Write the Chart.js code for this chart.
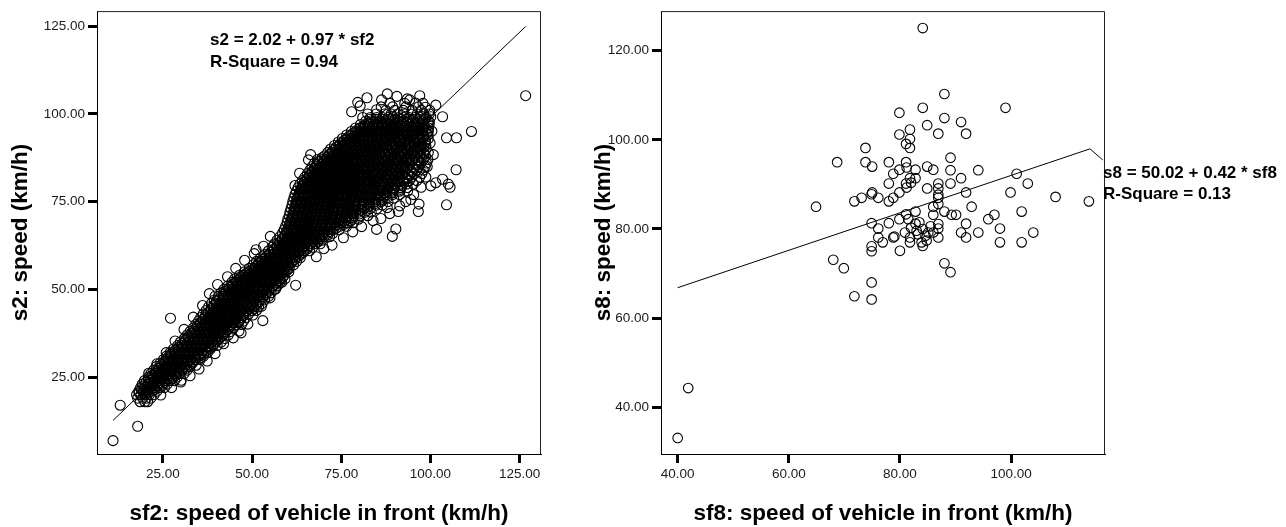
<!DOCTYPE html>
<html>
<head>
<meta charset="utf-8">
<script src="https://cdn.jsdelivr.net/npm/chart.js@4.4.1/dist/chart.umd.min.js"></script>
<style>
  html, body { margin: 0; padding: 0; background: #fff; }
  #wrap { position: relative; width: 1286px; height: 527px; }
  #left { position: absolute; left: 0; top: 0; }
  #right { position: absolute; left: 590px; top: 0; }
</style>
</head>
<body>
<div id="wrap">
  <canvas id="left" width="590" height="527"></canvas>
  <canvas id="right" width="696" height="527"></canvas>
</div>
<script>
// ---- section 2: s2 against sf2 ----
// each row: one s2 speed and the sf2 speeds observed at it
const s2Rows = [
  [18, [18.6, 19.9, 20.7]],
  [19, [17.9, 19.3, 20.4, 21.6]],
  [20, [17.6, 18.8, 20.1, 21.2, 22.5]],
  [20.5, [18.3, 19.6, 20.8]],
  [21, [18.2, 19.5, 20.6, 21.9, 23.3]],
  [21.5, [19.0, 20.3, 21.5, 22.8]],
  [22, [18.7, 20.0, 21.3, 22.6, 24.0, 25.4]],
  [22.5, [19.6, 20.9, 22.2, 23.5, 24.8]],
  [23, [19.2, 20.8, 22.1, 23.4, 24.8, 26.2]],
  [23.5, [20.2, 21.6, 22.9, 24.2, 25.6]],
  [24, [19.8, 21.4, 22.7, 24.0, 25.4, 26.9, 28.2]],
  [24.5, [21.0, 22.3, 23.6, 24.9, 26.2, 27.6]],
  [25, [20.9, 22.3, 23.5, 24.8, 26.1, 27.5, 29.0]],
  [25.5, [22.0, 23.3, 24.6, 25.9, 27.2, 28.6]],
  [26, [21.6, 23.0, 24.3, 25.6, 26.9, 28.3, 29.7, 30.9]],
  [26.5, [22.9, 24.2, 25.5, 26.8, 28.1, 29.5]],
  [27, [22.4, 23.8, 25.1, 26.4, 27.7, 29.0, 30.4, 31.8]],
  [27.5, [23.7, 25.0, 26.3, 27.6, 28.9, 30.3, 31.5]],
  [28, [23.1, 24.6, 25.9, 27.2, 28.5, 29.8, 31.1, 32.6]],
  [28.5, [24.5, 25.8, 27.1, 28.4, 29.7, 31.0, 32.4]],
  [29, [24.2, 25.5, 26.8, 28.0, 29.3, 30.6, 31.9, 33.3]],
  [29.5, [25.5, 26.8, 28.1, 29.4, 30.7, 32.0, 33.4]],
  [30, [25.1, 26.4, 27.7, 29.0, 30.2, 31.5, 32.8, 34.1, 35.4]],
  [30.5, [26.3, 27.6, 28.9, 30.2, 31.5, 32.8, 34.1, 35.5]],
  [31, [26.0, 27.3, 28.6, 29.8, 31.1, 32.4, 33.7, 35.0, 36.4]],
  [31.5, [27.2, 28.5, 29.8, 31.1, 32.4, 33.7, 35.0, 36.3]],
  [32, [27.0, 28.3, 29.5, 30.7, 32.0, 33.3, 34.6, 35.9, 37.5]],
  [32.5, [28.2, 29.5, 30.8, 32.1, 33.4, 34.7, 36.0, 37.2]],
  [33, [27.9, 29.2, 30.4, 31.6, 32.9, 34.2, 35.5, 36.8, 38.3]],
  [33.5, [29.3, 30.6, 31.9, 33.2, 34.5, 35.8, 37.1, 38.4]],
  [34, [29.1, 30.3, 31.5, 32.7, 33.9, 35.1, 36.4, 37.7, 39.0, 40.2]],
  [34.5, [30.3, 31.6, 32.9, 34.2, 35.5, 36.8, 38.1, 39.4]],
  [35, [29.9, 31.2, 32.4, 33.6, 34.8, 36.0, 37.3, 38.6, 39.9, 41.3]],
  [35.5, [31.2, 32.5, 33.8, 35.1, 36.4, 37.7, 39.0, 40.3]],
  [36, [31.0, 32.2, 33.4, 34.6, 35.8, 37.0, 38.2, 39.5, 40.8, 42.4]],
  [36.5, [32.1, 33.4, 34.7, 36.0, 37.3, 38.6, 39.9, 41.3]],
  [37, [31.8, 33.1, 34.3, 35.5, 36.7, 37.9, 39.2, 40.5, 41.8, 43.3]],
  [37.5, [32.9, 34.2, 35.5, 36.8, 38.1, 39.4, 40.7, 42.1]],
  [38, [32.6, 33.9, 35.1, 36.3, 37.5, 38.7, 39.9, 41.2, 42.5, 43.9]],
  [38.5, [33.8, 35.1, 36.4, 37.7, 39.0, 40.3, 41.6, 43.0]],
  [39, [33.5, 34.8, 36.0, 37.2, 38.4, 39.6, 40.8, 42.1, 43.4, 44.8]],
  [39.5, [34.6, 35.9, 37.2, 38.5, 39.8, 41.1, 42.4, 43.8]],
  [40, [34.2, 35.5, 36.7, 37.9, 39.1, 40.3, 41.5, 42.8, 44.1, 45.5, 47.0]],
  [40.5, [35.5, 36.8, 38.1, 39.4, 40.7, 42.0, 43.3, 44.7, 46.1]],
  [41, [35.0, 36.3, 37.5, 38.7, 39.9, 41.1, 42.3, 43.6, 44.9, 46.2, 47.6]],
  [41.5, [36.2, 37.5, 38.8, 40.1, 41.4, 42.7, 44.0, 45.4, 46.8]],
  [42, [35.6, 36.9, 38.1, 39.3, 40.5, 41.7, 42.9, 44.2, 45.5, 46.8, 48.3]],
  [42.5, [36.9, 38.2, 39.5, 40.8, 42.1, 43.4, 44.7, 46.1, 47.5]],
  [43, [36.3, 37.6, 38.8, 40.0, 41.2, 42.4, 43.6, 44.9, 46.2, 47.5, 49.0]],
  [43.5, [37.7, 39.0, 40.3, 41.6, 42.9, 44.2, 45.5, 46.9, 48.3]],
  [44, [37.1, 38.4, 39.6, 40.8, 42.0, 43.2, 44.4, 45.7, 47.0, 48.4, 49.9, 51.2]],
  [44.5, [38.5, 39.8, 41.1, 42.4, 43.7, 45.0, 46.3, 47.7, 49.1, 50.5]],
  [45, [37.8, 39.1, 40.3, 41.5, 42.7, 43.9, 45.1, 46.3, 47.6, 48.9, 50.3, 51.8]],
  [45.5, [39.3, 40.6, 41.9, 43.2, 44.5, 45.8, 47.1, 48.5, 49.9, 51.3]],
  [46, [38.6, 39.9, 41.1, 42.3, 43.5, 44.7, 45.9, 47.1, 48.4, 49.7, 51.1, 52.8]],
  [46.5, [40.0, 41.3, 42.6, 43.9, 45.2, 46.5, 47.8, 49.2, 50.6, 52.0]],
  [47, [39.4, 40.7, 41.9, 43.1, 44.3, 45.5, 46.7, 47.9, 49.2, 50.5, 51.9, 53.5]],
  [47.5, [40.9, 42.2, 43.5, 44.8, 46.1, 47.4, 48.7, 50.1, 51.5, 52.9]],
  [48, [40.6, 41.9, 43.1, 44.3, 45.5, 46.7, 47.9, 49.1, 50.4, 51.7, 53.0, 54.6]],
  [48.5, [41.8, 43.1, 44.4, 45.7, 47.0, 48.3, 49.6, 51.0, 52.4, 53.9]],
  [49, [41.3, 42.6, 43.8, 45.0, 46.2, 47.4, 48.6, 49.8, 51.1, 52.4, 53.8, 55.3]],
  [49.5, [42.6, 43.9, 45.2, 46.5, 47.8, 49.1, 50.4, 51.8, 53.2, 54.7]],
  [50, [42.1, 43.4, 44.6, 45.8, 47.0, 48.2, 49.4, 50.6, 51.9, 53.2, 54.6, 56.2]],
  [50.5, [43.6, 44.9, 46.2, 47.5, 48.8, 50.1, 51.4, 52.8, 54.2, 55.6]],
  [51, [43.2, 44.5, 45.7, 46.9, 48.1, 49.3, 50.5, 51.7, 53.0, 54.3, 55.7, 57.1]],
  [51.5, [44.6, 45.9, 47.2, 48.5, 49.8, 51.1, 52.4, 53.8, 55.2, 56.6]],
  [52, [44.3, 45.6, 46.8, 48.0, 49.2, 50.4, 51.6, 52.8, 54.1, 55.4, 56.8, 58.3]],
  [52.5, [45.7, 47.0, 48.3, 49.6, 50.9, 52.2, 53.5, 54.9, 56.3, 57.7]],
  [53, [45.1, 46.5, 47.7, 48.9, 50.1, 51.3, 52.5, 53.7, 55.0, 56.3, 57.7, 59.2]],
  [53.5, [46.9, 48.2, 49.5, 50.8, 52.1, 53.4, 54.7, 56.0, 57.4, 58.6]],
  [54, [46.4, 47.7, 48.9, 50.1, 51.3, 52.5, 53.7, 55.0, 56.3, 57.6, 59.0]],
  [54.5, [48.2, 49.5, 50.8, 52.1, 53.4, 54.7, 56.0, 57.3, 58.6]],
  [55, [47.8, 49.1, 50.3, 51.5, 52.7, 53.9, 55.1, 56.4, 57.7, 59.0, 60.3]],
  [55.5, [49.6, 50.9, 52.2, 53.5, 54.8, 56.1, 57.4, 58.7, 59.9]],
  [56, [49.2, 50.5, 51.7, 52.9, 54.1, 55.3, 56.5, 57.8, 59.1, 60.4]],
  [56.5, [50.9, 52.2, 53.5, 54.8, 56.1, 57.4, 58.7, 60.0]],
  [57, [50.3, 51.6, 52.8, 54.0, 55.2, 56.4, 57.6, 58.9, 60.2, 61.6]],
  [57.5, [51.9, 53.2, 54.5, 55.8, 57.1, 58.4, 59.7, 61.0]],
  [58, [51.2, 52.5, 53.7, 54.9, 56.1, 57.3, 58.5, 59.8, 61.1, 62.5]],
  [58.5, [52.9, 54.2, 55.5, 56.8, 58.1, 59.4, 60.7, 62.0]],
  [59, [52.3, 53.6, 54.8, 56.0, 57.2, 58.4, 59.6, 60.9, 62.2, 63.5]],
  [59.5, [54.1, 55.4, 56.7, 58.0, 59.3, 60.6, 61.9, 63.1]],
  [60, [53.6, 54.9, 56.1, 57.3, 58.5, 59.7, 60.9, 62.2, 63.6]],
  [60.5, [55.2, 56.5, 57.8, 59.1, 60.4, 61.7, 63.0, 64.3]],
  [61, [54.6, 55.9, 57.1, 58.3, 59.5, 60.7, 61.9, 63.2, 64.6, 66.1]],
  [61.5, [56.2, 57.5, 58.8, 60.1, 61.4, 62.7, 64.0, 65.4]],
  [62, [55.6, 56.9, 58.1, 59.3, 60.5, 61.7, 62.9, 64.2, 65.5, 67.0]],
  [62.5, [57.0, 58.3, 59.6, 60.9, 62.2, 63.5, 64.8, 66.2]],
  [63, [56.3, 57.6, 58.8, 60.0, 61.2, 62.4, 63.6, 64.9, 66.2, 67.6, 69.1]],
  [63.5, [57.8, 59.1, 60.4, 61.7, 63.0, 64.3, 65.6, 67.0, 68.4]],
  [64, [57.0, 58.3, 59.5, 60.7, 61.9, 63.1, 64.3, 65.5, 66.8, 68.1, 69.6]],
  [64.5, [58.5, 59.8, 61.1, 62.4, 63.7, 65.0, 66.3, 67.7, 69.1]],
  [65, [57.8, 59.0, 60.2, 61.4, 62.6, 63.8, 65.0, 66.2, 67.5, 68.8, 70.2, 71.7]],
  [65.5, [59.2, 60.5, 61.8, 63.1, 64.4, 65.7, 67.0, 68.4, 69.8, 71.2]],
  [66, [58.5, 59.8, 61.0, 62.2, 63.4, 64.6, 65.8, 67.0, 68.3, 69.6, 71.0, 72.6]],
  [66.5, [59.7, 61.0, 62.3, 63.6, 64.9, 66.2, 67.5, 68.9, 70.3, 71.8]],
  [67, [59.0, 60.3, 61.5, 62.7, 63.9, 65.1, 66.3, 67.5, 68.7, 70.0, 71.3, 72.7, 74.4]],
  [67.5, [60.1, 61.4, 62.7, 64.0, 65.3, 66.6, 67.9, 69.3, 70.7, 72.1, 73.6]],
  [68, [59.4, 60.7, 61.9, 63.1, 64.3, 65.5, 66.7, 67.9, 69.1, 70.4, 71.7, 73.1, 74.6, 76.5]],
  [68.5, [60.5, 61.8, 63.1, 64.4, 65.7, 67.0, 68.3, 69.7, 71.1, 72.5, 74.0, 75.6]],
  [69, [59.8, 61.1, 62.3, 63.5, 64.7, 65.9, 67.1, 68.3, 69.5, 70.8, 72.1, 73.5, 75.0, 76.7, 78.4]],
  [69.5, [60.9, 62.2, 63.5, 64.8, 66.1, 67.4, 68.7, 70.1, 71.5, 72.9, 74.4, 76.0, 77.6]],
  [70, [60.0, 61.3, 62.5, 63.7, 64.9, 66.1, 67.3, 68.5, 69.7, 71.0, 72.3, 73.6, 75.0, 76.5, 78.1, 79.8]],
  [70.5, [61.2, 62.5, 63.8, 65.1, 66.4, 67.7, 69.0, 70.4, 71.8, 73.2, 74.7, 76.3, 78.0]],
  [71, [60.4, 61.7, 62.9, 64.1, 65.3, 66.5, 67.7, 68.9, 70.1, 71.3, 72.6, 73.9, 75.3, 76.8, 78.4, 80.3, 82.4]],
  [71.5, [61.5, 62.8, 64.1, 65.4, 66.7, 68.0, 69.3, 70.7, 72.1, 73.5, 75.0, 76.6, 78.3, 80.1]],
  [72, [60.6, 61.9, 63.1, 64.3, 65.5, 66.7, 67.9, 69.1, 70.3, 71.5, 72.8, 74.1, 75.4, 76.8, 78.3, 79.9, 81.7, 83.4]],
  [72.5, [61.8, 63.1, 64.4, 65.7, 67.0, 68.3, 69.6, 71.0, 72.4, 73.8, 75.3, 76.9, 78.6, 80.4, 82.2]],
  [73, [60.9, 62.2, 63.4, 64.6, 65.8, 67.0, 68.2, 69.4, 70.6, 71.8, 73.0, 74.3, 75.6, 76.9, 78.3, 79.8, 81.4, 83.1, 85.0]],
  [73.5, [62.0, 63.3, 64.6, 65.9, 67.2, 68.5, 69.8, 71.2, 72.6, 74.0, 75.5, 77.1, 78.8, 80.6, 82.4]],
  [74, [61.2, 62.5, 63.7, 64.9, 66.1, 67.3, 68.5, 69.7, 70.9, 72.1, 73.3, 74.6, 75.9, 77.2, 78.5, 79.9, 81.4, 83.0, 84.7, 86.5]],
  [74.5, [62.3, 63.6, 64.9, 66.2, 67.5, 68.8, 70.1, 71.5, 72.9, 74.3, 75.8, 77.4, 79.1, 80.9, 82.7, 84.6]],
  [75, [61.4, 62.7, 63.9, 65.1, 66.3, 67.5, 68.7, 69.9, 71.1, 72.3, 73.5, 74.8, 76.1, 77.4, 78.7, 80.0, 81.4, 82.9, 84.5, 86.2, 88.1]],
  [75.5, [62.5, 63.8, 65.1, 66.4, 67.7, 69.0, 70.3, 71.7, 73.1, 74.5, 76.0, 77.6, 79.3, 81.1, 82.9, 84.8, 86.7]],
  [76, [61.7, 63.0, 64.2, 65.4, 66.6, 67.8, 69.0, 70.2, 71.4, 72.6, 73.8, 75.0, 76.3, 77.6, 78.9, 80.2, 81.5, 82.9, 84.4, 86.0, 87.8, 89.7]],
  [76.5, [62.9, 64.2, 65.5, 66.8, 68.1, 69.4, 70.7, 72.1, 73.5, 74.9, 76.4, 78.0, 79.7, 81.5, 83.3, 85.2, 87.1]],
  [77, [62.0, 63.3, 64.5, 65.7, 66.9, 68.1, 69.3, 70.5, 71.7, 72.9, 74.1, 75.3, 76.6, 77.9, 79.2, 80.5, 81.8, 83.1, 84.5, 86.0, 87.6, 89.4, 91.3]],
  [77.5, [63.2, 64.5, 65.8, 67.1, 68.4, 69.7, 71.0, 72.4, 73.8, 75.2, 76.7, 78.3, 80.0, 81.8, 83.6, 85.5, 87.4, 89.3]],
  [78, [62.4, 63.7, 64.9, 66.1, 67.3, 68.5, 69.7, 70.9, 72.1, 73.3, 74.5, 75.7, 77.0, 78.3, 79.6, 80.9, 82.2, 83.5, 84.9, 86.3, 87.8, 89.5, 91.4, 93.6]],
  [78.5, [63.6, 64.9, 66.2, 67.5, 68.8, 70.1, 71.4, 72.8, 74.2, 75.6, 77.1, 78.7, 80.4, 82.2, 84.0, 85.9, 87.8, 89.7, 91.6]],
  [79, [62.9, 64.2, 65.4, 66.6, 67.8, 69.0, 70.2, 71.4, 72.6, 73.8, 75.0, 76.2, 77.5, 78.8, 80.1, 81.4, 82.7, 84.0, 85.3, 86.7, 88.2, 89.8, 91.6, 93.5]],
  [79.5, [64.0, 65.3, 66.6, 67.9, 69.2, 70.5, 71.8, 73.2, 74.6, 76.0, 77.5, 79.1, 80.8, 82.6, 84.4, 86.3, 88.2, 90.1, 92.0]],
  [80, [63.4, 64.7, 65.9, 67.1, 68.3, 69.5, 70.7, 71.9, 73.1, 74.3, 75.5, 76.7, 78.0, 79.3, 80.6, 81.9, 83.2, 84.5, 85.8, 87.1, 88.5, 90.0, 91.6, 93.3, 95.2]],
  [80.5, [64.6, 65.9, 67.2, 68.5, 69.8, 71.1, 72.4, 73.8, 75.2, 76.6, 78.1, 79.7, 81.4, 83.2, 85.0, 86.9, 88.8, 90.7, 92.6]],
  [81, [64.1, 65.4, 66.6, 67.8, 69.0, 70.2, 71.4, 72.6, 73.8, 75.0, 76.2, 77.4, 78.7, 80.0, 81.3, 82.6, 83.9, 85.2, 86.5, 87.8, 89.2, 90.7, 92.3, 94.1, 96.2]],
  [81.5, [65.3, 66.6, 67.9, 69.2, 70.5, 71.8, 73.1, 74.5, 75.9, 77.3, 78.8, 80.4, 82.1, 83.9, 85.7, 87.6, 89.5, 91.4, 93.3]],
  [82, [64.8, 66.1, 67.3, 68.5, 69.7, 70.9, 72.1, 73.3, 74.5, 75.7, 76.9, 78.1, 79.4, 80.7, 82.0, 83.3, 84.6, 85.9, 87.2, 88.5, 89.9, 91.4, 93.0, 94.8, 97.0]],
  [82.5, [66.0, 67.3, 68.6, 69.9, 71.2, 72.5, 73.8, 75.2, 76.6, 78.0, 79.5, 81.1, 82.8, 84.6, 86.4, 88.3, 90.2, 92.1, 94.0]],
  [83, [65.5, 66.8, 68.0, 69.2, 70.4, 71.6, 72.8, 74.0, 75.2, 76.4, 77.6, 78.8, 80.1, 81.4, 82.7, 84.0, 85.3, 86.6, 87.9, 89.2, 90.6, 92.1, 93.7, 95.5, 97.6]],
  [83.5, [66.7, 68.0, 69.3, 70.6, 71.9, 73.2, 74.5, 75.9, 77.3, 78.7, 80.2, 81.8, 83.5, 85.3, 87.1, 89.0, 90.9, 92.8, 94.7]],
  [84, [66.2, 67.5, 68.7, 69.9, 71.1, 72.3, 73.5, 74.7, 75.9, 77.1, 78.3, 79.5, 80.8, 82.1, 83.4, 84.7, 86.0, 87.3, 88.6, 89.9, 91.3, 92.8, 94.4, 96.1, 98.0]],
  [84.5, [67.4, 68.7, 70.0, 71.3, 72.6, 73.9, 75.2, 76.6, 78.0, 79.4, 80.9, 82.5, 84.2, 86.0, 87.8, 89.7, 91.6, 93.5, 95.4]],
  [85, [66.8, 68.1, 69.3, 70.5, 71.7, 72.9, 74.1, 75.3, 76.5, 77.7, 78.9, 80.1, 81.4, 82.7, 84.0, 85.3, 86.6, 87.9, 89.2, 90.5, 91.9, 93.4, 95.0, 96.7, 98.5]],
  [85.5, [68.1, 69.4, 70.7, 72.0, 73.3, 74.6, 75.9, 77.3, 78.7, 80.1, 81.6, 83.2, 84.9, 86.7, 88.5, 90.4, 92.3, 94.2, 96.1]],
  [86, [67.5, 68.8, 70.0, 71.2, 72.4, 73.6, 74.8, 76.0, 77.2, 78.4, 79.6, 80.8, 82.1, 83.4, 84.7, 86.0, 87.3, 88.6, 89.9, 91.2, 92.6, 94.1, 95.7, 97.3, 98.9]],
  [86.5, [68.8, 70.1, 71.4, 72.7, 74.0, 75.3, 76.6, 78.0, 79.4, 80.8, 82.3, 83.9, 85.6, 87.4, 89.2, 91.1, 93.0, 94.9, 96.8]],
  [87, [68.3, 69.6, 70.8, 72.0, 73.2, 74.4, 75.6, 76.8, 78.0, 79.2, 80.4, 81.6, 82.9, 84.2, 85.5, 86.8, 88.1, 89.4, 90.7, 92.0, 93.4, 94.9, 96.4, 98.0, 99.3]],
  [87.5, [69.6, 70.9, 72.2, 73.5, 74.8, 76.1, 77.4, 78.8, 80.2, 81.6, 83.1, 84.7, 86.4, 88.2, 90.0, 91.9, 93.8, 95.7, 97.5]],
  [88, [70.3, 71.5, 72.7, 73.9, 75.1, 76.3, 77.5, 78.7, 79.9, 81.1, 82.3, 83.6, 84.9, 86.2, 87.5, 88.8, 90.1, 91.4, 92.7, 94.1, 95.6, 97.1, 98.6]],
  [88.5, [71.7, 73.0, 74.3, 75.6, 76.9, 78.2, 79.6, 81.0, 82.4, 83.9, 85.5, 87.2, 89.0, 90.8, 92.7, 94.6, 96.5, 98.2]],
  [89, [71.2, 72.4, 73.6, 74.8, 76.0, 77.2, 78.4, 79.6, 80.8, 82.0, 83.2, 84.5, 85.8, 87.1, 88.4, 89.7, 91.0, 92.3, 93.6, 95.0, 96.5, 98.1, 99.4]],
  [89.5, [72.6, 73.9, 75.2, 76.5, 77.8, 79.1, 80.5, 81.9, 83.3, 84.8, 86.4, 88.1, 89.9, 91.7, 93.6, 95.5, 97.3]],
  [90, [72.0, 73.2, 74.4, 75.6, 76.8, 78.0, 79.2, 80.4, 81.6, 82.8, 84.0, 85.3, 86.6, 87.9, 89.2, 90.5, 91.8, 93.1, 94.4, 95.8, 97.3, 98.8]],
  [90.5, [73.6, 74.9, 76.2, 77.5, 78.8, 80.1, 81.5, 82.9, 84.3, 85.8, 87.4, 89.1, 90.9, 92.7, 94.6, 96.5, 98.1]],
  [91, [73.1, 74.3, 75.5, 76.7, 77.9, 79.1, 80.3, 81.5, 82.7, 83.9, 85.1, 86.4, 87.7, 89.0, 90.3, 91.6, 92.9, 94.2, 95.6, 97.1, 98.7]],
  [91.5, [74.7, 76.0, 77.3, 78.6, 79.9, 81.2, 82.6, 84.0, 85.4, 86.9, 88.5, 90.2, 92.0, 93.8, 95.7, 97.5]],
  [92, [74.2, 75.4, 76.6, 77.8, 79.0, 80.2, 81.4, 82.6, 83.8, 85.0, 86.2, 87.5, 88.8, 90.1, 91.4, 92.7, 94.0, 95.4, 96.9, 98.5]],
  [92.5, [75.9, 77.2, 78.5, 79.8, 81.1, 82.4, 83.8, 85.2, 86.6, 88.1, 89.7, 91.4, 93.2, 95.0, 96.9, 98.6]],
  [93, [75.3, 76.5, 77.7, 78.9, 80.1, 81.3, 82.5, 83.7, 84.9, 86.1, 87.3, 88.6, 89.9, 91.2, 92.5, 93.8, 95.1, 96.5, 98.0, 99.4]],
  [93.5, [77.1, 78.4, 79.7, 81.0, 82.3, 83.6, 85.0, 86.4, 87.8, 89.3, 90.9, 92.6, 94.4, 96.2, 98.0]],
  [94, [76.5, 77.7, 78.9, 80.1, 81.3, 82.5, 83.7, 84.9, 86.1, 87.3, 88.5, 89.8, 91.1, 92.4, 93.7, 95.0, 96.4, 97.9, 99.3]],
  [94.5, [78.3, 79.6, 80.9, 82.2, 83.5, 84.8, 86.2, 87.6, 89.0, 90.5, 92.1, 93.8, 95.6, 97.4, 99.0]],
  [95, [77.8, 79.0, 80.2, 81.4, 82.6, 83.8, 85.0, 86.2, 87.4, 88.6, 89.8, 91.1, 92.4, 93.7, 95.0, 96.4, 97.9, 99.4]],
  [95.5, [79.6, 80.9, 82.2, 83.5, 84.8, 86.1, 87.5, 88.9, 90.3, 91.8, 93.4, 95.1, 96.9, 98.6]],
  [96, [79.0, 80.3, 81.5, 82.7, 83.9, 85.1, 86.3, 87.5, 88.7, 89.9, 91.2, 92.5, 93.8, 95.1, 96.5, 98.0, 99.5]],
  [96.5, [81.1, 82.4, 83.7, 85.0, 86.3, 87.6, 89.0, 90.4, 91.8, 93.3, 94.9, 96.6, 98.3]],
  [97, [80.4, 81.7, 82.9, 84.1, 85.3, 86.5, 87.7, 88.9, 90.1, 91.4, 92.7, 94.0, 95.3, 96.7, 98.2, 99.6]],
  [97.5, [82.6, 83.9, 85.2, 86.5, 87.8, 89.1, 90.5, 91.9, 93.3, 94.8, 96.4, 98.0]],
  [98, [81.9, 83.3, 84.6, 85.9, 87.2, 88.5, 89.8, 91.1, 92.4, 93.7, 95.0, 96.4, 97.9, 99.4]],
  [98.5, [83.0, 84.9, 86.6, 88.3, 90.0, 91.7, 93.4, 95.1, 96.8, 98.4]],
  [99, [81.0, 83.2, 85.0, 86.6, 88.2, 89.6, 91.0, 92.5, 94.0, 95.6, 97.2, 98.8]],
  [100, [82.4, 84.8, 87.1, 89.0, 90.8, 92.6, 94.5, 96.3, 98.1, 99.7]],
  [101, [87.5, 90.0, 92.4, 94.9, 97.5, 99.8]],
  [102, [86.2, 89.4, 93.1, 96.6]],
  [103, [88.6, 92.8, 97.9]],
  [104, [94.2]]
];

// stray (sf2, s2) readings around and away from the main band
const s2Strays = [
  [11.0, 6.9], [17.9, 11.0], [13.0, 17.0], [27.1, 41.8], [126.7, 105.2], [111.5, 95.0],
  [104.5, 93.2], [107.3, 93.2], [107.2, 84.1], [104.5, 74.1], [89.3, 65.1], [90.3, 67.2],
  [84.9, 67.1], [96.6, 72.2], [91.0, 72.2], [87.9, 73.3], [100.1, 79.5], [101.5, 80.4],
  [103.4, 81.4], [105.0, 80.0], [105.5, 79.1], [94.5, 75.6], [96.8, 74.3], [87.9, 105.7],
  [97.0, 105.2], [86.3, 104.0], [80.3, 102.3], [84.9, 101.2], [101.5, 102.5], [103.4, 99.2],
  [100.1, 99.2], [65.8, 86.9], [55.1, 65.1], [51.1, 61.3], [62.2, 51.2], [68.0, 59.3],
  [53.0, 41.1], [46.3, 38.1], [39.6, 48.1], [30.1, 24.1], [34.3, 28.4],
  [62.0, 79.6], [63.3, 83.1], [66.4, 88.4], [77.9, 100.6], [79.6, 103.3], [82.2, 104.6],
  [90.6, 105.0], [93.5, 104.3], [95.8, 103.1], [98.6, 101.9], [99.7, 97.6], [100.4, 95.1],
  [99.9, 91.7], [100.8, 88.4], [99.1, 85.0], [98.7, 82.0], [97.4, 79.1], [95.3, 77.0],
  [93.1, 75.0], [91.4, 73.8], [88.6, 71.6], [86.1, 70.2], [83.9, 69.6], [80.7, 67.9],
  [78.2, 66.4], [75.6, 64.7], [72.4, 62.6], [70.1, 61.6], [57.9, 52.1], [59.6, 55.4],
  [56.6, 50.1], [55.0, 47.6], [52.6, 45.2], [50.2, 42.7], [48.8, 40.1], [46.9, 37.6],
  [44.7, 36.2], [42.0, 34.5], [39.6, 31.7], [37.4, 29.6], [35.1, 27.3], [32.6, 25.4],
  [30.0, 23.6], [27.4, 22.0], [24.4, 19.9], [33.5, 42.1], [36.1, 45.4], [38.0, 48.8],
  [40.3, 51.4], [43.1, 53.6], [45.4, 56.0], [47.9, 58.3], [50.6, 60.2], [53.2, 62.3],
  [30.9, 38.6], [28.4, 35.3], [25.9, 32.0], [23.3, 28.8], [21.0, 26.1]
];

const s2Fit = { intercept: 2.02, slope: 0.97, r2: 0.94, from: 11, to: 126.7 };
const sf2Ticks = [25, 50, 75, 100, 125];
const s2Ticks = [25, 50, 75, 100, 125];

// ---- section 8: s8 against sf8 ----
const s8Points = [
  [40.0, 33.1], [41.9, 44.3], [64.9, 85.0], [68.0, 73.1], [69.9, 71.2], [71.8, 64.9],
  [74.9, 68.0], [74.9, 64.2], [68.7, 95.0], [73.8, 98.2], [73.8, 95.0], [75.0, 94.0],
  [78.0, 95.0], [71.8, 86.2], [73.1, 87.0], [74.9, 87.8], [76.1, 87.0], [78.0, 86.2],
  [78.8, 87.0], [75.0, 88.2], [78.8, 92.4], [78.0, 90.2], [74.9, 81.3], [76.1, 80.1],
  [78.0, 81.3], [76.1, 78.1], [76.9, 77.0], [78.8, 78.1], [79.0, 78.3], [74.9, 76.1],
  [74.9, 75.0], [84.1, 125.1], [84.1, 107.2], [79.9, 106.1], [84.9, 103.3], [81.8, 102.3],
  [79.9, 101.2], [81.8, 100.2], [81.1, 99.1], [81.8, 98.2], [86.9, 101.4], [81.1, 95.0],
  [81.2, 93.8], [84.9, 94.0], [86.0, 93.3], [82.8, 93.3], [79.9, 93.3], [81.8, 91.4],
  [82.8, 91.4], [82.0, 90.4], [81.1, 90.2], [81.2, 89.3], [86.9, 90.2], [84.9, 89.1],
  [86.9, 89.1], [86.9, 87.7], [79.9, 88.2], [86.9, 87.0], [86.0, 85.0], [86.9, 85.6],
  [82.8, 83.9], [81.1, 83.3], [86.0, 83.2], [88.0, 83.9], [89.3, 83.2], [90.1, 83.2],
  [79.9, 82.2], [81.5, 82.2], [82.8, 81.2], [84.1, 80.0], [83.0, 79.6], [85.1, 79.2],
  [86.0, 79.2], [86.9, 80.1], [86.9, 78.1], [81.8, 78.1], [80.9, 79.2], [81.8, 77.0],
  [83.9, 77.0], [84.1, 76.2], [84.8, 77.4], [80.0, 75.1], [86.9, 81.1], [88.0, 72.3],
  [89.1, 70.3], [82.0, 80.3], [83.5, 81.5], [85.5, 80.6], [84.6, 78.5], [83.2, 78.8],
  [88.0, 110.3], [99.0, 107.2], [88.0, 104.9], [91.0, 104.0], [91.9, 101.4], [89.1, 96.0],
  [89.1, 93.2], [94.1, 93.2], [91.0, 91.4], [101.0, 92.4], [103.0, 90.2], [99.9, 88.2],
  [108.0, 87.2], [114.0, 86.2], [89.1, 90.2], [91.9, 88.2], [92.9, 85.0], [101.9, 83.9],
  [97.0, 83.2], [95.9, 82.2], [91.9, 81.2], [98.0, 80.1], [104.0, 79.2], [94.1, 79.2],
  [91.0, 79.2], [91.9, 78.1], [98.0, 77.0], [101.9, 77.0]
];

const s8Fit = { intercept: 50.02, slope: 0.42, r2: 0.13, from: 40, to: 114.2 };
const s8FitTail = [116.5, 95.5]; // where the drawn fit line drops off at the right edge
const sf8Ticks = [40, 60, 80, 100];
const s8Ticks = [40, 60, 80, 100, 120];

// ---- drawing ----
const FONT = '"Liberation Sans", Arial, sans-serif';
const tickFont = { family: FONT, size: 13.5 };
const titleFont = { family: FONT, size: 22.5, weight: 'bold' };

const fitPoints = f => [f.from, f.to].map(x => ({ x, y: f.intercept + f.slope * x }));
const fitLabel = (f, yName, xName) => [
  `${yName} = ${f.intercept.toFixed(2)} + ${f.slope.toFixed(2)} * ${xName}`,
  `R-Square = ${f.r2.toFixed(2)}`
];

// top and right edges of the plot frame
const frame = {
  id: 'frame',
  beforeDatasetsDraw(chart) {
    const { ctx, chartArea: a } = chart;
    ctx.save();
    ctx.strokeStyle = '#222';
    ctx.lineWidth = 1;
    ctx.beginPath();
    ctx.moveTo(a.left, a.top + 0.5);
    ctx.lineTo(a.right - 0.5, a.top + 0.5);
    ctx.lineTo(a.right - 0.5, a.bottom);
    ctx.stroke();
    ctx.restore();
  }
};

// regression equation text
const equation = {
  id: 'equation',
  afterDatasetsDraw(chart, args, opts) {
    const { ctx, chartArea: a } = chart;
    ctx.save();
    ctx.font = `bold 17px ${FONT}`;
    ctx.fillStyle = '#000';
    ctx.textBaseline = 'middle';
    ctx.textAlign = 'left';
    opts.lines.forEach((t, i) => ctx.fillText(t, a.left + opts.dx, a.top + opts.dy + i * opts.gap));
    ctx.restore();
  }
};

function axis(cfg) {
  return {
    type: 'linear',
    min: cfg.min,
    max: cfg.max,
    afterFit: s => { if (cfg.width) s.width = cfg.width; if (cfg.height) s.height = cfg.height; },
    afterBuildTicks: s => { s.ticks = cfg.ticks.map(v => ({ value: v })); },
    grid: { display: true, drawOnChartArea: false, drawTicks: true, tickLength: 9, tickWidth: 3, tickColor: '#000' },
    border: { display: true, color: '#000', width: 1 },
    ticks: { padding: 3, color: '#1a1a1a', font: tickFont, callback: v => Number(v).toFixed(2) },
    title: { display: true, text: cfg.title, color: '#000', font: titleFont, padding: cfg.titlePad }
  };
}

function scatterChart(id, o) {
  return new Chart(document.getElementById(id), {
    type: 'scatter',
    data: {
      datasets: [
        {
          data: o.points,
          pointStyle: 'circle',
          pointRadius: o.radius,
          pointBorderWidth: 1.1,
          pointBorderColor: '#000',
          pointBackgroundColor: 'rgba(0,0,0,0)',
          clip: false
        },
        {
          type: 'line',
          data: o.line,
          borderColor: '#000',
          borderWidth: 1,
          pointRadius: 0,
          fill: false,
          tension: 0
        }
      ]
    },
    options: {
      responsive: false,
      animation: false,
      events: [],
      layout: { padding: { top: 10, right: o.padRight, left: 0, bottom: 0 } },
      plugins: {
        legend: { display: false },
        tooltip: { enabled: false },
        equation: o.label
      },
      scales: {
        x: axis({ min: o.xMin, max: o.xMax, ticks: o.xTicks, title: o.xTitle, height: 73, titlePad: { top: 0, bottom: 0 } }),
        y: axis({ min: o.yMin, max: o.yMax, ticks: o.yTicks, title: o.yTitle, width: o.yWidth, titlePad: { top: o.yTitlePad, bottom: 0 } })
      }
    },
    plugins: [frame, equation]
  });
}

const s2Points = s2Rows
  .flatMap(([y, xs]) => xs.map(x => ({ x, y })))
  .concat(s2Strays.map(([x, y]) => ({ x, y })));

scatterChart('left', {
  points: s2Points,
  line: fitPoints(s2Fit),
  radius: 5,
  xMin: 6.5, xMax: 131, yMin: 3.1, yMax: 129.3,
  xTicks: sf2Ticks, yTicks: s2Ticks,
  xTitle: 'sf2: speed of vehicle in front (km/h)',
  yTitle: 's2: speed (km/h)',
  yWidth: 97, yTitlePad: 7.5, padRight: 49,
  label: { lines: fitLabel(s2Fit, 's2', 'sf2'), dx: 113, dy: 29, gap: 22 }
});

scatterChart('right', {
  points: s8Points.map(([x, y]) => ({ x, y })),
  line: fitPoints(s8Fit).concat([{ x: s8FitTail[0], y: s8FitTail[1] }]),
  radius: 4.8,
  xMin: 37, xMax: 116.9, yMin: 29.5, yMax: 128.9,
  xTicks: sf8Ticks, yTicks: s8Ticks,
  xTitle: 'sf8: speed of vehicle in front (km/h)',
  yTitle: 's8: speed (km/h)',
  yWidth: 71, yTitlePad: 0, padRight: 181,
  label: { lines: fitLabel(s8Fit, 's8', 'sf8'), dx: 442, dy: 162, gap: 21 }
});
</script>
</body>
</html>
